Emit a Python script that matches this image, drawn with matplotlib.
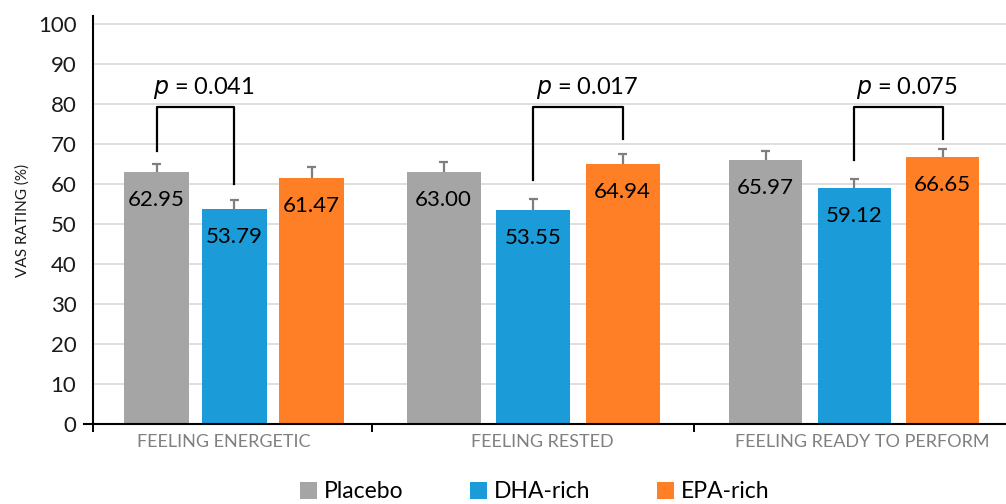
import matplotlib.pyplot as plt
import numpy as np

# data
categories = ['FEELING ENERGETIC', 'FEELING RESTED', 'FEELING READY TO PERFORM']
groups = ['Placebo', 'DHA-rich', 'EPA-rich']
placebo = [62.95, 63.00, 65.97]
dha = [53.79, 53.55, 59.12]
epa = [61.47, 64.94, 66.65]
placebo_err = [2.1, 2.6, 2.2]
dha_err = [2.2, 2.7, 2.2]
epa_err = [2.7, 2.6, 2.1]
p_values = ['0.041', '0.017', '0.075']
# which bars each bracket joins (0 = placebo, 1 = DHA, 2 = EPA)
p_pairs = [(0, 1), (1, 2), (1, 2)]
p_leg_bottoms = [(68.3, 59.9), (61.1, 71.3), (66.1, 71.3)]

plt.rcParams['font.family'] = ['Lato', 'DejaVu Sans']

colors = ['#A5A5A5', '#1B9BD7', '#FF7F27']

# layout (x in pixel-like units, the original chart is not evenly spaced)
centers = np.array([234, 533, 854])
spacing = np.array([77.5, 89.5, 88.5])
widths = np.array([65, 74, 73])
bounds = [93, 372, 694, 1006]
label_x = [224, 542, 862]

fig = plt.figure(figsize=(10.06, 5.04), dpi=100)
ax = fig.add_axes([93 / 1006, 80 / 504, 913 / 1006, (424 - 16) / 504])

series = [placebo, dha, epa]
errs = [placebo_err, dha_err, epa_err]
xs_all = []
for i, (vals, err) in enumerate(zip(series, errs)):
    xs = centers + (i - 1) * spacing
    xs_all.append(xs)
    vals = np.array(vals)
    tops = vals + np.array(err)
    ax.bar(xs, vals, width=widths, color=colors[i], label=groups[i], zorder=2)
    # upper error bar only
    ax.vlines(xs, vals, tops, color='#7F7F7F', lw=1.6, zorder=3)
    ax.hlines(tops, xs - 4.5, xs + 4.5, color='#7F7F7F', lw=1.6, zorder=3)
    for x, v in zip(xs, vals):
        ax.text(x, v - 7, f'{v:.2f}', ha='center', va='center', fontsize=16,
                color='black', zorder=4)

# significance brackets
top = 79.3
for g in range(3):
    a, b = p_pairs[g]
    xa = xs_all[a][g]
    xb = xs_all[b][g]
    ya, yb = p_leg_bottoms[g]
    ax.plot([xa, xa, xb, xb], [ya, top, top, yb], color='black', lw=1.6, zorder=4)
    ax.text((xa + xb) / 2 + 9, top + 4.6, r'$\it{p}$' + ' = ' + p_values[g],
            ha='center', va='center', fontsize=17, color='black')

ax.set_xlim(bounds[0], bounds[-1])
ax.set_ylim(0, 102)
ax.set_yticks(np.arange(0, 101, 10))
ax.tick_params(axis='y', length=0, labelsize=16, labelcolor='#1a1a1a', pad=12)
ax.set_ylabel('VAS RATING (%)', fontsize=11, color='#1a1a1a', labelpad=6)

ax.set_xticks(bounds[:-1])
ax.set_xticklabels([])
ax.tick_params(axis='x', length=6, width=1.4, direction='out', color='black')
for c, lab in zip(label_x, categories):
    ax.text(c, -4.6, lab, ha='center', va='center', fontsize=13, color='#808080')

ax.grid(axis='y', color='#D9D9D9', lw=1.2, zorder=0)
ax.set_axisbelow(True)
for s in ['top', 'right']:
    ax.spines[s].set_visible(False)
ax.spines['left'].set_linewidth(1.5)
ax.spines['bottom'].set_linewidth(1.5)
ax.plot([bounds[0] - 9, bounds[0]], [0, 0], color='black', lw=1.5, clip_on=False)

fig.legend(loc='center', bbox_to_anchor=(535 / 1006, 1 - 492 / 504), ncol=3,
           frameon=False, fontsize=16.5, handlelength=0.75, handleheight=0.75,
           handletextpad=0.3, columnspacing=2.9)

fig.savefig('out.png', dpi=100)
